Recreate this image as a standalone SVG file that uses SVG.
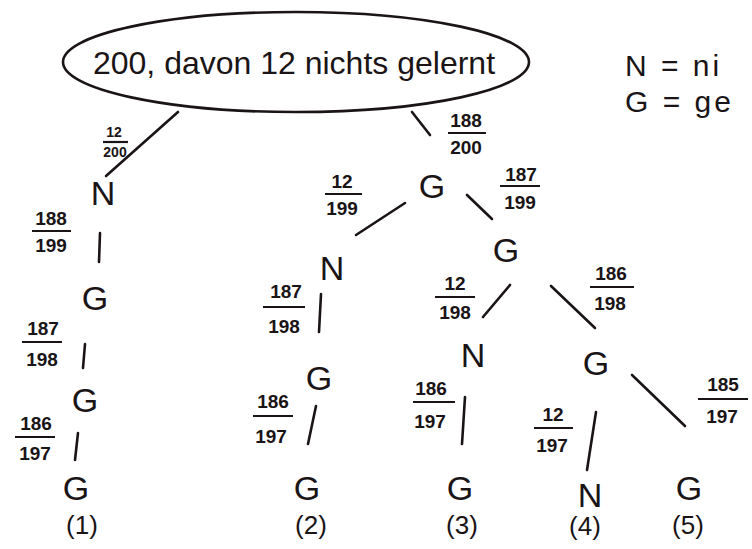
<svg xmlns="http://www.w3.org/2000/svg" width="752" height="549" viewBox="0 0 752 549">
  <style>
    .ink { fill: none; stroke: #1a1416; stroke-width: 2.6; stroke-linecap: round; }
    .node { font-family: "Liberation Sans", "DejaVu Sans", sans-serif; font-size: 34px; fill: #1a1416; text-anchor: middle; }
    .frac { font-family: "Liberation Sans", "DejaVu Sans", sans-serif; font-size: 19px; font-weight: bold; fill: #1a1416; text-anchor: middle; }
    .fracs { font-family: "Liberation Sans", "DejaVu Sans", sans-serif; font-size: 14px; font-weight: bold; fill: #1a1416; text-anchor: middle; }
    .leaf { font-family: "Liberation Sans", "DejaVu Sans", sans-serif; font-size: 26px; fill: #1a1416; text-anchor: middle; }
    .title { font-family: "Liberation Sans", "DejaVu Sans", sans-serif; font-size: 32px; fill: #1a1416; }
    .legend { font-family: "Liberation Sans", "DejaVu Sans", sans-serif; font-size: 30px; fill: #1a1416; letter-spacing: 3px; }
    .bar { stroke: #1a1416; stroke-width: 2.2; }
  </style>
  <rect width="752" height="549" fill="#ffffff"/>

  <!-- root -->
  <g id="root">
    <ellipse class="ink" cx="296" cy="62" rx="233" ry="50"/>
    <text class="title" x="294" y="74" text-anchor="middle">200, davon 12 nichts gelernt</text>
  </g>

  <!-- legend -->
  <g id="legend">
    <text class="legend" x="625" y="76">N = ni</text>
    <text class="legend" x="625" y="112">G = ge</text>
  </g>

  <!-- connectors -->
  <g id="connectors">
    <line class="ink" x1="178" y1="112" x2="106" y2="176"/>
    <line class="ink" x1="412" y1="112" x2="430" y2="135"/>
    <line class="ink" x1="100" y1="233" x2="99" y2="262"/>
    <line class="ink" x1="85" y1="344" x2="83" y2="368"/>
    <line class="ink" x1="78" y1="433" x2="75" y2="460"/>
    <line class="ink" x1="405" y1="203" x2="356" y2="235"/>
    <line class="ink" x1="467" y1="195" x2="492" y2="219"/>
    <line class="ink" x1="321" y1="294" x2="319" y2="332"/>
    <line class="ink" x1="316" y1="406" x2="308" y2="444"/>
    <line class="ink" x1="510" y1="285" x2="483" y2="317"/>
    <line class="ink" x1="551" y1="286" x2="595" y2="328"/>
    <line class="ink" x1="465" y1="397" x2="462" y2="444"/>
    <line class="ink" x1="596" y1="412" x2="587" y2="470"/>
    <line class="ink" x1="632" y1="375" x2="685" y2="426"/>
  </g>

  <!-- branch probabilities -->
  <g id="fractions">
    <text class="fracs" x="114" y="137">12</text><line class="bar" x1="103" y1="142" x2="128" y2="142"/><text class="fracs" x="115" y="157">200</text>
    <text class="frac" x="466" y="127">188</text><line class="bar" x1="448" y1="133" x2="486" y2="133"/><text class="frac" x="466" y="154">200</text>
    <text class="frac" x="51" y="225">188</text><line class="bar" x1="32" y1="231" x2="71" y2="231"/><text class="frac" x="51" y="252">199</text>
    <text class="frac" x="43" y="335">187</text><line class="bar" x1="22" y1="342" x2="62" y2="342"/><text class="frac" x="42" y="366">198</text>
    <text class="frac" x="36" y="430">186</text><line class="bar" x1="15" y1="437" x2="55" y2="437"/><text class="frac" x="35" y="460">197</text>
    <text class="frac" x="342" y="188">12</text><line class="bar" x1="325" y1="194" x2="362" y2="194"/><text class="frac" x="342" y="215">199</text>
    <text class="frac" x="521" y="181">187</text><line class="bar" x1="500" y1="186" x2="540" y2="186"/><text class="frac" x="520" y="209">199</text>
    <text class="frac" x="286" y="298">187</text><line class="bar" x1="263" y1="307" x2="305" y2="307"/><text class="frac" x="284" y="333">198</text>
    <text class="frac" x="273" y="408">186</text><line class="bar" x1="253" y1="416" x2="293" y2="416"/><text class="frac" x="271" y="443">197</text>
    <text class="frac" x="455" y="290">12</text><line class="bar" x1="435" y1="297" x2="475" y2="297"/><text class="frac" x="455" y="319">198</text>
    <text class="frac" x="611" y="280">186</text><line class="bar" x1="590" y1="287" x2="634" y2="287"/><text class="frac" x="610" y="310">198</text>
    <text class="frac" x="431" y="395">186</text><line class="bar" x1="413" y1="402" x2="455" y2="402"/><text class="frac" x="430" y="428">197</text>
    <text class="frac" x="553" y="421">12</text><line class="bar" x1="534" y1="428" x2="573" y2="428"/><text class="frac" x="552" y="452">197</text>
    <text class="frac" x="723" y="391">185</text><line class="bar" x1="698" y1="399" x2="748" y2="399"/><text class="frac" x="722" y="423">197</text>
  </g>

  <!-- tree nodes -->
  <g id="n-l1"><text class="node" x="103" y="205">N</text></g>
  <g id="g-l2"><text class="node" x="95" y="310">G</text></g>
  <g id="g-l3"><text class="node" x="85" y="412">G</text></g>
  <g id="g-l4"><text class="node" x="76" y="500">G</text></g>
  <g id="g-m1"><text class="node" x="432" y="198">G</text></g>
  <g id="n-m2"><text class="node" x="332" y="280">N</text></g>
  <g id="g-m3"><text class="node" x="319" y="390">G</text></g>
  <g id="g-m4"><text class="node" x="307" y="500">G</text></g>
  <g id="g-r2"><text class="node" x="506" y="262">G</text></g>
  <g id="n-r3"><text class="node" x="473" y="367">N</text></g>
  <g id="g-r4"><text class="node" x="460" y="500">G</text></g>
  <g id="g-s3"><text class="node" x="596" y="375">G</text></g>
  <g id="n-s4"><text class="node" x="590" y="507">N</text></g>
  <g id="g-s5"><text class="node" x="689" y="500">G</text></g>

  <!-- outcome numbers -->
  <g id="outcomes">
    <text class="leaf" x="82" y="534">(1)</text>
    <text class="leaf" x="311" y="534">(2)</text>
    <text class="leaf" x="462" y="534">(3)</text>
    <text class="leaf" x="585" y="535">(4)</text>
    <text class="leaf" x="688" y="534">(5)</text>
  </g>
</svg>
